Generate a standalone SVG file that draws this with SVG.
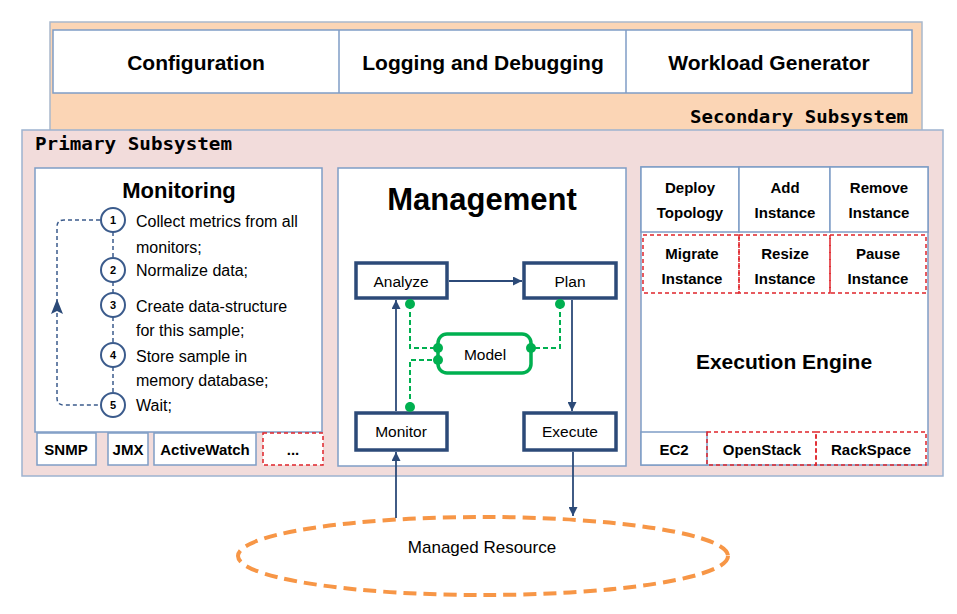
<svg xmlns="http://www.w3.org/2000/svg" width="957" height="614" viewBox="0 0 957 614">
<style>
.sans{font-family:"Liberation Sans",Arial,sans-serif;fill:#000}
.mono{font-family:"DejaVu Sans Mono","Liberation Mono",monospace;font-weight:bold;font-size:18px;fill:#000}
.cell{fill:#fff;stroke:#7F9DC6;stroke-width:1.5}
.red{fill:none;stroke:#E0242B;stroke-width:1.5;stroke-dasharray:4 3}
.nav{fill:#fff;stroke:#2C4A78;stroke-width:3.5}
.lbl{font-size:15.5px;text-anchor:middle}
.b15{font-size:15px;font-weight:bold;text-anchor:middle}
.step{font-size:16px}
.circ{fill:#fff;stroke:#3B5B8C;stroke-width:2}
.num{font-size:11px;font-weight:bold;text-anchor:middle}
.conn{fill:none;stroke:#2C4A78;stroke-width:1.8}
.gdash{fill:none;stroke:#00B050;stroke-width:2;stroke-dasharray:5 3}
.gdot{fill:#00B050}
.loop{fill:none;stroke:#3B5B8C;stroke-width:1.5;stroke-dasharray:4 3}
</style>
<defs>
<marker id="ah" viewBox="0 0 10 10" refX="10" refY="5" markerWidth="5.5" markerHeight="5" orient="auto" markerUnits="strokeWidth">
<path d="M0,0 L10,5 L0,10 z" fill="#2C4A78"/>
</marker>
</defs>
<rect width="957" height="614" fill="#fff"/>

<g id="secondary">
<rect x="50" y="22" width="872" height="110" fill="#FBD5B5" stroke="#A9B8CC" stroke-width="1.5"/>
<rect x="53" y="30" width="859" height="63" class="cell"/>
<line x1="339" y1="30" x2="339" y2="93" stroke="#7F9DC6" stroke-width="1.5"/>
<line x1="626" y1="30" x2="626" y2="93" stroke="#7F9DC6" stroke-width="1.5"/>
<text x="196" y="70" class="sans" font-size="21" font-weight="bold" text-anchor="middle">Configuration</text>
<text x="483" y="70" class="sans" font-size="21" font-weight="bold" text-anchor="middle">Logging and Debugging</text>
<text x="769" y="70" class="sans" font-size="21" font-weight="bold" text-anchor="middle">Workload Generator</text>
<text x="908" y="123" class="mono" text-anchor="end" textLength="218" lengthAdjust="spacingAndGlyphs">Secondary Subsystem</text>
</g>

<g id="primary">
<rect x="22" y="130" width="921" height="346" fill="#F2DCDB" stroke="#9DB3D0" stroke-width="1.5"/>
<text x="35" y="150" class="mono" textLength="197" lengthAdjust="spacingAndGlyphs">Primary Subsystem</text>
</g>

<g id="monitoring">
<rect x="35" y="168" width="287" height="264" class="cell"/>
<text x="179" y="198" class="sans" font-size="22" font-weight="bold" text-anchor="middle">Monitoring</text>
<path d="M113,232 V258 M113,282 V293 M113,317 V343 M113,367 V393" class="loop"/>
<path d="M100,220 H64 Q57,220 57,227 V398 Q57,405 64,405 H100" class="loop"/>
<path d="M57,299 L51,314 L57,311 L63,314 Z" fill="#2C4A78"/>
<circle cx="113" cy="220" r="12" class="circ"/>
<circle cx="113" cy="270" r="12" class="circ"/>
<circle cx="113" cy="305" r="12" class="circ"/>
<circle cx="113" cy="355" r="12" class="circ"/>
<circle cx="113" cy="405" r="12" class="circ"/>
<text x="113" y="224" class="sans num">1</text>
<text x="113" y="274" class="sans num">2</text>
<text x="113" y="309" class="sans num">3</text>
<text x="113" y="359" class="sans num">4</text>
<text x="113" y="409" class="sans num">5</text>
<text x="136" y="227" class="sans step">Collect metrics from all</text>
<text x="136" y="253" class="sans step">monitors;</text>
<text x="136" y="276" class="sans step">Normalize data;</text>
<text x="136" y="312" class="sans step">Create data-structure</text>
<text x="136" y="336" class="sans step">for this sample;</text>
<text x="136" y="362" class="sans step">Store sample in</text>
<text x="136" y="386" class="sans step">memory database;</text>
<text x="136" y="411" class="sans step">Wait;</text>
</g>

<g id="monitor-plugins">
<rect x="37" y="433" width="59" height="32" class="cell"/>
<rect x="108" y="433" width="40" height="32" class="cell"/>
<rect x="154" y="433" width="102" height="32" class="cell"/>
<rect x="263" y="433" width="60" height="32" class="red" style="fill:#fff"/>
<text x="66" y="455" class="sans b15">SNMP</text>
<text x="128" y="455" class="sans b15">JMX</text>
<text x="205" y="455" class="sans b15">ActiveWatch</text>
<text x="293" y="455" class="sans b15">...</text>
</g>

<g id="management">
<rect x="338" y="168" width="288" height="298" class="cell"/>
<text x="482" y="210" class="sans" font-size="31" font-weight="bold" text-anchor="middle">Management</text>
</g>

<g id="analyze">
<rect x="356" y="263" width="91" height="35" class="nav"/>
<text x="401" y="287" class="sans lbl">Analyze</text>
</g>
<g id="plan">
<rect x="524" y="263" width="92" height="35" class="nav"/>
<text x="570" y="287" class="sans lbl">Plan</text>
</g>
<g id="monitor">
<rect x="356" y="413" width="91" height="37" class="nav"/>
<text x="401" y="437" class="sans lbl">Monitor</text>
</g>
<g id="execute">
<rect x="524" y="413" width="92" height="37" class="nav"/>
<text x="570" y="437" class="sans lbl">Execute</text>
</g>
<g id="model">
<rect x="438" y="334" width="93" height="39" rx="9" fill="#fff" stroke="#00B050" stroke-width="3.5"/>
<text x="485" y="360" class="sans lbl">Model</text>
</g>

<g id="execution-engine">
<rect x="641" y="167" width="287" height="298" class="cell"/>
<rect x="641" y="167" width="98" height="65" class="cell"/>
<rect x="739" y="167" width="91" height="65" class="cell"/>
<rect x="830" y="167" width="98" height="65" class="cell"/>
<rect x="643" y="235" width="96" height="58" class="red"/>
<rect x="739" y="235" width="91" height="58" class="red"/>
<rect x="830" y="235" width="96" height="58" class="red"/>
<text x="690" y="193" class="sans b15">Deploy</text>
<text x="690" y="218" class="sans b15">Topology</text>
<text x="785" y="193" class="sans b15">Add</text>
<text x="785" y="218" class="sans b15">Instance</text>
<text x="879" y="193" class="sans b15">Remove</text>
<text x="879" y="218" class="sans b15">Instance</text>
<text x="692" y="259" class="sans b15">Migrate</text>
<text x="692" y="284" class="sans b15">Instance</text>
<text x="785" y="259" class="sans b15">Resize</text>
<text x="785" y="284" class="sans b15">Instance</text>
<text x="878" y="259" class="sans b15">Pause</text>
<text x="878" y="284" class="sans b15">Instance</text>
<text x="784" y="369" class="sans" font-size="21" font-weight="bold" text-anchor="middle">Execution Engine</text>
<rect x="641" y="432" width="66" height="33" class="cell"/>
<rect x="707" y="432" width="109" height="33" class="red"/>
<rect x="816" y="432" width="110" height="33" class="red"/>
<text x="674" y="455" class="sans b15">EC2</text>
<text x="762" y="455" class="sans b15">OpenStack</text>
<text x="871" y="455" class="sans b15">RackSpace</text>
</g>

<g id="managed-resource">
<ellipse cx="483" cy="556" rx="245" ry="39" fill="none" stroke="#F79646" stroke-width="4" stroke-dasharray="13 7"/>
<text x="482" y="553" class="sans" font-size="17" text-anchor="middle">Managed Resource</text>
</g>

<g id="connectors">
<line x1="449" y1="281" x2="522" y2="281" class="conn" marker-end="url(#ah)"/>
<line x1="396" y1="411" x2="396" y2="300" class="conn" marker-end="url(#ah)"/>
<line x1="572" y1="300" x2="572" y2="411" class="conn" marker-end="url(#ah)"/>
<line x1="396" y1="518" x2="396" y2="452" class="conn" marker-end="url(#ah)"/>
<line x1="573" y1="452" x2="573" y2="516" class="conn" marker-end="url(#ah)"/>
<path d="M410,304 V348 H438" class="gdash"/>
<path d="M410,407 V360 H438" class="gdash"/>
<path d="M560,304 V348 H531" class="gdash"/>
<circle cx="410" cy="304" r="5" class="gdot"/>
<circle cx="438" cy="348" r="5" class="gdot"/>
<circle cx="438" cy="360" r="5" class="gdot"/>
<circle cx="410" cy="407" r="5" class="gdot"/>
<circle cx="560" cy="304" r="5" class="gdot"/>
<circle cx="531" cy="348" r="5" class="gdot"/>
</g>
</svg>
